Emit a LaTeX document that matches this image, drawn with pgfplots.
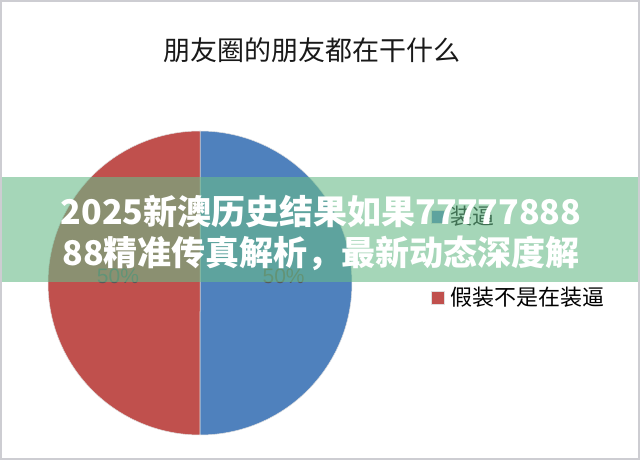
\documentclass[border=0pt]{standalone}
\usepackage{pgfplots}
\pgfplotsset{compat=1.18}
\usepackage{pgfplotstable}
\usepackage{fontspec}
\setmainfont{Liberation Sans}
\newfontfamily\cjk{Noto Sans CJK SC}
\definecolor{pieblue}{RGB}{79,129,189}
\definecolor{piered}{RGB}{192,80,77}
\definecolor{band}{RGB}{105,187,138}
\definecolor{lblgray}{RGB}{89,89,89}
\definecolor{frame}{RGB}{205,205,210}
\pgfplotstableread{
idx value
0 50
1 50
}\piedata
\begin{document}
\begin{tikzpicture}[x=1pt,y=1pt]
\fill[white] (0,0) rectangle (640,460);
\pgfplotstablegetelem{0}{value}\of\piedata \let\va\pgfplotsretval
\pgfplotstablegetelem{1}{value}\of\piedata \let\vb\pgfplotsretval
\pgfmathsetmacro\fa{\va/(\va+\vb)}
\pgfmathsetmacro\fb{\vb/(\va+\vb)}
\pgfmathsetmacro\aA{90-360*\fa}
\pgfmathsetmacro\aB{\aA-360*\fb}
\node[font=\cjk\fontsize{27}{30}\selectfont, text=black!90] at (312,410) {朋友圈的朋友都在干什么};
\begin{axis}[at={(48pt,25pt)}, anchor=south west, width=304pt, height=304pt,
  scale only axis, xmin=-1, xmax=1, ymin=-1, ymax=1, hide axis, clip=false,
  legend style={at={(axis cs:1.52,0.505)}, anchor=north west, draw=none, fill=none,
    font=\cjk\fontsize{22}{24}\selectfont, row sep=61pt, inner sep=0pt,
    nodes={inner sep=0pt}},
  legend cell align=left,
  legend image code/.code={\fill[#1] (0pt,-6.5pt) rectangle (13pt,6.5pt);},
  /tikz/every odd column/.append style={column sep=6pt}]
\addplot[fill=pieblue, draw=white!75!gray, line width=0.5pt, domain=\aA:90, samples=120]
  ({cos(x)},{sin(x)}) -- (0,0) -- cycle;
\addlegendentry{装逼}
\addplot[fill=piered, draw=white!75!gray, line width=0.5pt, domain=\aB:\aA, samples=120]
  ({cos(x)},{sin(x)}) -- (0,0) -- cycle;
\addlegendentry{假装不是在装逼}
\node[font=\fontsize{21}{22}\selectfont, text=lblgray] at (axis cs:0.55,0.045) {50\%};
\node[font=\fontsize{21}{22}\selectfont, text=lblgray] at (axis cs:-0.54,0.045) {50\%};
\end{axis}
\fill[band, opacity=0.6] (0,178) rectangle (640,283);
\node[font=\cjk\bfseries\fontsize{34}{38}\selectfont, text=white] at (321,248) {2025新澳历史结果如果77777888};
\node[font=\cjk\bfseries\fontsize{34}{38}\selectfont, text=white] at (321,207) {88精准传真解析，最新动态深度解};
\draw[frame, line width=2pt] (1,1) rectangle (639,459);
\end{tikzpicture}
\end{document}
